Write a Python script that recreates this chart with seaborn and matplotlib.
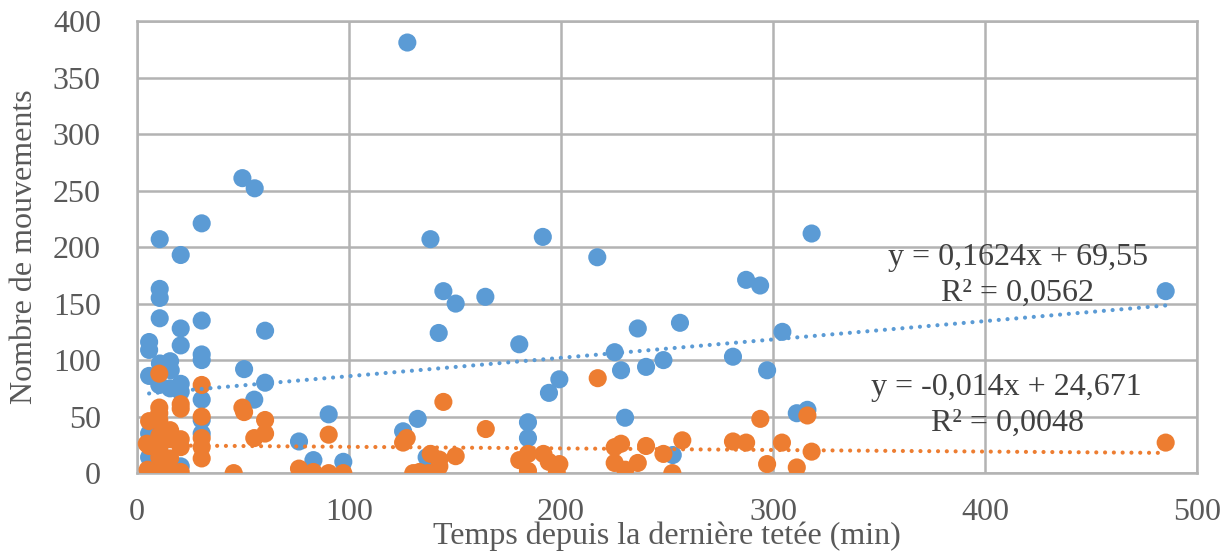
import numpy as np
import pandas as pd
import matplotlib
matplotlib.use("Agg")
import matplotlib.pyplot as plt
import seaborn as sns

# ---- data ----
blue_x = [127.5, 49.7, 55.5, 30.5, 10.7, 20.6, 138.4, 191.4, 217.1, 318.2, 10.7, 10.7,
          144.5, 150.3, 164.3, 287.3, 293.9, 485.2, 10.7, 20.6, 30.5, 60.4, 142.3, 236.2,
          256.1, 304.4, 180.3, 5.7, 5.7, 20.6, 30.5, 30.5, 10.8, 15.6, 15.9, 225.3, 228.3,
          240.1, 248.3, 281.1, 297.2, 5.7, 50.5, 60.4, 10.5, 15.6, 20.6, 20.6, 199.2, 194.3,
          30.5, 55.3, 90.4, 132.4, 230.2, 311.2, 316.2, 30.5, 184.4, 125.5, 76.4, 184.4,
          5.7, 30.5, 136.6, 83.2, 97.3, 252.7, 5.7, 20.6, 5.7, 10.5, 15.6]
blue_y = [381, 261, 252, 221, 207, 193, 207, 209, 191, 212, 163, 155,
          161, 150, 156, 171, 166, 161, 137, 128, 135, 126, 124, 128,
          133, 125, 114, 116, 109, 113, 105, 100, 97, 99, 91, 107, 91,
          94, 100, 103, 91, 86, 92, 80, 78, 75, 79, 72, 83, 71,
          65, 65, 52, 48, 49, 53, 56, 47, 45, 37, 28, 31,
          35, 35, 14, 11.5, 10, 16, 14, 6, 25, 20, 5]

orange_x = [10.5, 30.5, 20.6, 20.6, 10.5, 10.5, 5.7, 10.5, 30.5, 49.7, 50.5, 60.4, 60.4,
            55.3, 15.6, 10.5, 15.6, 20.6, 5.7, 10.5, 20.6, 30.5, 30.5, 30.5, 10.5, 15.6,
            5.7, 10.5, 15.6, 20.6, 45.6, 90.4, 76.4, 83.2, 90.4, 97.3, 125.5, 127.2,
            130.3, 133.2, 137.4, 138.5, 142.6, 142.6, 144.5, 150.3, 164.5, 180.3, 184.4,
            184.4, 191.7, 194.2, 198.0, 199.2, 217.3, 225.3, 228.3, 225.3, 230.3, 236.2,
            240.1, 248.3, 252.5, 257.2, 281.1, 287.3, 294.0, 297.2, 304.2, 311.2, 316.2,
            318.2, 485.2, 4.6, 5.0]
orange_y = [88, 78, 61, 57, 58, 53, 46, 47, 50, 58, 54, 47, 35,
            31, 38, 33, 30, 30, 24, 22, 23, 31, 23, 13, 14, 13,
            1, 1, 1, 1, 0, 34, 4, 1, 0, 0, 27, 31,
            0, 1, 0, 17, 12, 6, 63, 15, 39, 11.5, 17,
            2, 17, 10, 0, 8, 84, 23, 26, 9, 3, 9,
            24, 17, 0, 29, 28, 27, 48, 8, 27, 5, 51,
            19, 27, 26, 3]

blue_fit = (0.1624, 69.55)
orange_fit = (-0.014, 24.671)
blue_eq = ["y = 0,1624x + 69,55", "R² = 0,0562"]
orange_eq = ["y = -0,014x + 24,671", "R² = 0,0048"]

x_label = "Temps depuis la dernière tetée (min)"
y_label = "Nombre de mouvements"

BLUE = "#5B9BD5"
ORANGE = "#ED7D31"
GRID = "#B3B3B3"
TXT = "#595959"

df = pd.concat([
    pd.DataFrame({"x": blue_x, "y": blue_y, "serie": "bleu"}),
    pd.DataFrame({"x": orange_x, "y": orange_y, "serie": "orange"}),
], ignore_index=True)

sns.set_theme(style="white")
plt.rcParams["font.family"] = ["Liberation Serif", "DejaVu Serif"]

fig = plt.figure(figsize=(12.29, 5.54), dpi=100)
ax = fig.add_axes([0.1115, 0.146, 0.8625, 0.816])

sns.scatterplot(data=df, x="x", y="y", hue="serie",
                palette={"bleu": BLUE, "orange": ORANGE},
                s=170, linewidth=0, alpha=1, legend=False, ax=ax, zorder=3)

for xs, (a, b), col in [(blue_x, blue_fit, BLUE), (orange_x, orange_fit, ORANGE)]:
    xx = np.array([min(xs), max(xs)])
    ax.plot(xx, a * xx + b, color=col, lw=3.0, linestyle=(0, (0.01, 2.1)),
            dash_capstyle="round", zorder=4)

ax.set_xlim(0, 500)
ax.set_ylim(0, 400)
ax.set_xticks(range(0, 501, 100))
ax.set_yticks(range(0, 401, 50))
ax.grid(True, color=GRID, lw=1.8, zorder=0)
ax.set_axisbelow(True)
for sp in ax.spines.values():
    sp.set_color(GRID)
    sp.set_linewidth(1.8)
ax.tick_params(axis="both", length=0, labelsize=23, colors=TXT)
ax.tick_params(axis="x", pad=18)
ax.tick_params(axis="y", pad=26)
ax.set_xlabel(x_label, fontsize=23, color=TXT, labelpad=-4)
ax.set_ylabel(y_label, fontsize=23, color=TXT, labelpad=10)

ax.text(415.5, 190.5, blue_eq[0], ha="center", va="center", fontsize=23, color="#404040", zorder=5)
ax.text(415.5, 159.5, blue_eq[1], ha="center", va="center", fontsize=23, color="#404040", zorder=5)
ax.text(410, 76, orange_eq[0], ha="center", va="center", fontsize=23, color="#404040", zorder=5)
ax.text(410.5, 44, orange_eq[1], ha="center", va="center", fontsize=23, color="#404040", zorder=5)

fig.savefig("out.png", dpi=100, facecolor="white")
